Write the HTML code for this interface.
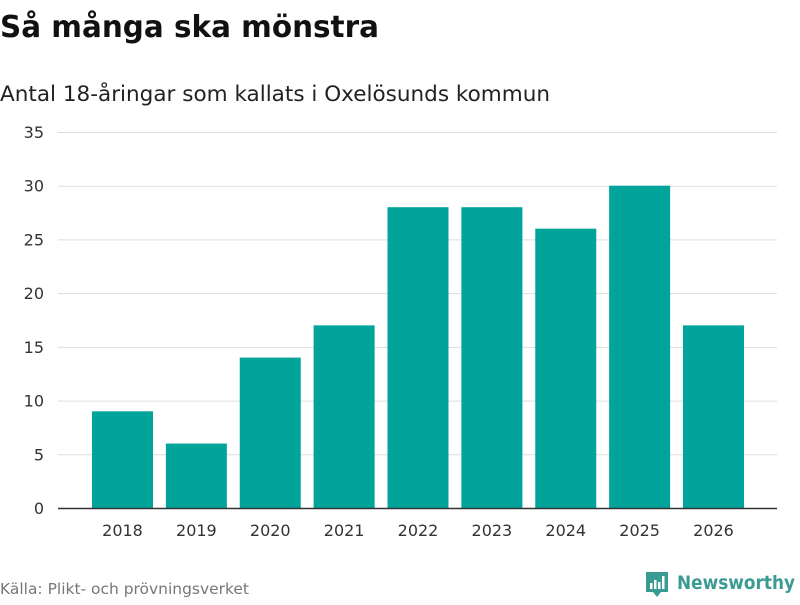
<!DOCTYPE html>
<html><head><meta charset="utf-8"><style>
body{margin:0;background:#fff;font-family:"Liberation Sans","DejaVu Sans",sans-serif;}
svg text{font-family:"DejaVu Sans","Liberation Sans",sans-serif;}
</style></head><body>
<svg id="chart" width="800" height="600" xmlns="http://www.w3.org/2000/svg">
<text x="0" y="37" font-size="30" font-weight="bold" fill="#111" textLength="379" lengthAdjust="spacingAndGlyphs">Så många ska mönstra</text>
<text x="0" y="101" font-size="21.5" fill="#222" textLength="550" lengthAdjust="spacingAndGlyphs">Antal 18-åringar som kallats i Oxelösunds kommun</text>
<g id="grid"></g><g id="bars"></g><g id="xlabels"></g>
<line x1="58" x2="777" y1="508.5" y2="508.5" stroke="#333" stroke-width="1.5"/>
<text x="0" y="594" font-size="15.5" fill="#777" textLength="249" lengthAdjust="spacingAndGlyphs">Källa: Plikt- och prövningsverket</text>
<g>
<path d="M646 572 h22 v20 h-7 l-4 5 l-4 -5 h-7 z" fill="#3a9b93"/>
<rect x="650" y="583" width="2.5" height="6" fill="#fff"/><rect x="654" y="580" width="2.5" height="9" fill="#fff"/><rect x="658" y="582" width="2.5" height="7" fill="#fff"/><rect x="662" y="576" width="2.5" height="13" fill="#fff"/>
<text x="677" y="589" font-size="19" font-weight="bold" fill="#3a9b93" textLength="118" lengthAdjust="spacingAndGlyphs">Newsworthy</text>
</g>
</svg>
<script>
const categories=["2018","2019","2020","2021","2022","2023","2024","2025","2026"];
const values=[9,6,14,17,28,28,26,30,17];
const yTicks=[0,5,10,15,20,25,30,35];
const NS="http://www.w3.org/2000/svg";
const y=v=>508-v*(376/35);
const x=i=>122.5+i*73.875;
const g=document.getElementById('grid'),b=document.getElementById('bars'),xl=document.getElementById('xlabels');
yTicks.forEach(t=>{
 if(t>0){const l=document.createElementNS(NS,'line');
 l.setAttribute('x1',58);l.setAttribute('x2',777);l.setAttribute('y1',y(t)+0.5);l.setAttribute('y2',y(t)+0.5);
 l.setAttribute('stroke','#ddd');
 
 
 g.appendChild(l);}
 const tx=document.createElementNS(NS,'text');
 tx.setAttribute('x',44);tx.setAttribute('y',y(t)+6);tx.setAttribute('text-anchor','end');tx.setAttribute('font-size','16');tx.setAttribute('fill','#333');
 tx.textContent=t;
 
 
 g.appendChild(tx);
});
categories.forEach((c,i)=>{
 const r=document.createElementNS(NS,'rect');
 r.setAttribute('x',x(i)-30.5);r.setAttribute('width',61);r.setAttribute('y',y(values[i]));r.setAttribute('height',508-y(values[i]));
 r.setAttribute('fill','#00a49a');
 
 
 b.appendChild(r);
 const t=document.createElementNS(NS,'text');
 t.setAttribute('x',x(i));t.setAttribute('y',536);t.setAttribute('text-anchor','middle');t.setAttribute('font-size','16');t.setAttribute('fill','#333');
 t.textContent=c;
 
 
 xl.appendChild(t);
});
</script>
</body></html>
